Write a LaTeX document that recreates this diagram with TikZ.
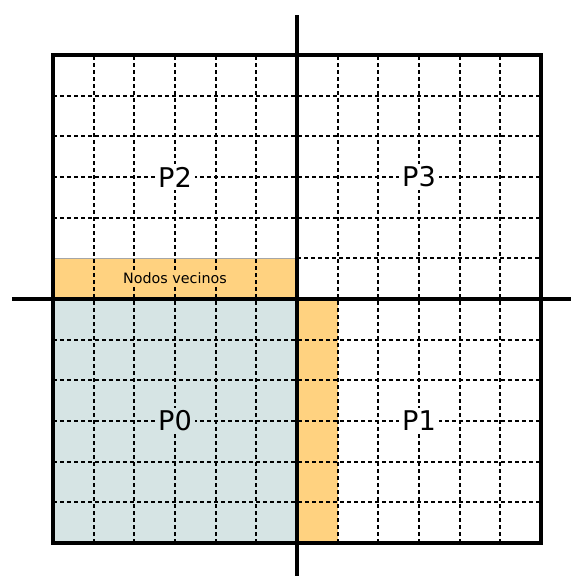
\documentclass[tikz,border=0pt]{standalone}
\usepackage{fontspec}
\setmainfont{DejaVu Sans}
\usetikzlibrary{positioning}

\definecolor{vecino}{HTML}{FFD280}
\definecolor{propio}{HTML}{D6E4E4}

\begin{document}
\begin{tikzpicture}[
    x=1cm, y=1cm,
    gridline/.style={line width=1.3pt, dash pattern=on 2.8pt off 2.1pt},
    borde/.style={line width=2.8pt},
    eje/.style={line width=2.8pt},
    proc/.style={fill=white, inner sep=2pt, font=\fontsize{19}{22}\selectfont},
    etiqueta/.style={fill=vecino, inner sep=1pt, font=\fontsize{10}{12}\selectfont},
  ]
    \useasboundingbox (-1.303,-0.836) rectangle (12.786,13.352);

    % Regions
    \fill[propio] (0,0) rectangle (6,6);
    \fill[vecino] (0,6) rectangle (6,7);
    \fill[vecino] (6,0) rectangle (7,6);

    % Grid
    \foreach \i in {1,...,11} {
        \draw[gridline] (\i,0) -- (\i,12);
    }
    \foreach \i in {1,...,6,8,9,10,11} {
        \draw[gridline] (0,\i) -- (12,\i);
    }
    \draw[gridline] (6,7) -- (12,7);
    \draw[gray!70, line width=0.4pt] (0,7) -- (6,7);
    \draw[borde] (0,0) rectangle (12,12);

    % Axes
    \coordinate (izq) at (-1.01,6);
    \coordinate (der) at (12.74,6);
    \coordinate (arr) at (6,12.98);
    \coordinate (aba) at (6,-0.81);
    \draw[eje] (izq) -- (der);
    \draw[eje] (aba) -- (arr);

    % Labels
    \node[proc, fill=propio] (p0) at (3,3) {P0};
    \node[proc] (p1) at (9,3) {P1};
    \node[proc] (p2) at (3,9) {P2};
    \node[proc] (p3) at (9,9) {P3};
    \node[etiqueta] (vecinos) at (3,6.5) {Nodos vecinos};
\end{tikzpicture}
\end{document}
